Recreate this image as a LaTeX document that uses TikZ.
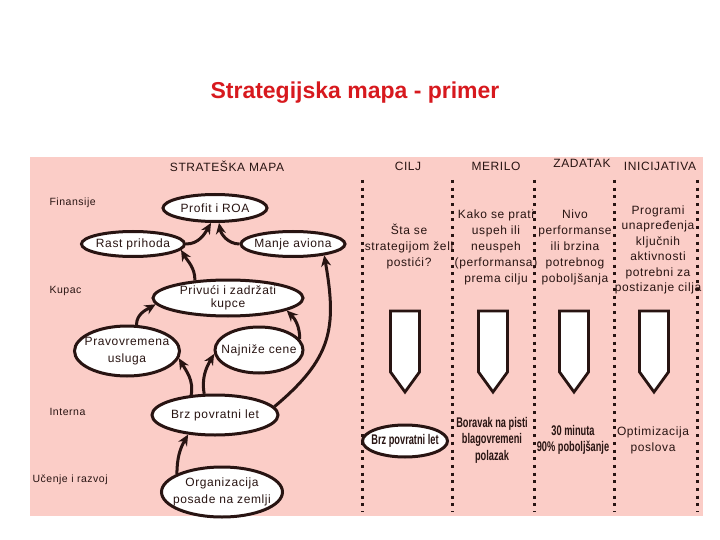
\documentclass[tikz,border=0pt]{standalone}
\usepackage{fontspec}
\setmainfont{Liberation Sans}[LetterSpace=5]
\newfontfamily\titlefont{Liberation Sans}
\newfontfamily\narrowfont[FakeStretch=0.66]{Liberation Sans}
\usetikzlibrary{shapes.geometric,arrows.meta,positioning}
\definecolor{mappink}{RGB}{251,205,199}
\definecolor{inkdark}{RGB}{40,20,18}
\definecolor{titlered}{RGB}{215,25,30}

\begin{document}
\begin{tikzpicture}[x=1pt,y=-1pt,
  oval/.style={draw=inkdark, fill=white, ellipse, line width=3pt, inner xsep=-8pt, inner ysep=-2pt, align=center, text=inkdark, font=\fontsize{12}{17}\selectfont},
  conn/.style={draw=inkdark, line width=3pt, -{Stealth[length=11pt,width=10pt]}},
  guide/.style={draw=inkdark, line width=3pt, dash pattern=on 3pt off 4.7pt},
  arrowbox/.style={draw=inkdark, fill=white, line width=2.8pt, line join=miter},
  head/.style={text=inkdark, font=\fontsize{12}{15}\selectfont},
  rowlbl/.style={text=inkdark, anchor=west, font=\fontsize{10.5}{13}\selectfont},
  coltxt/.style={text=inkdark, align=center, font=\fontsize{12}{16}\selectfont},
  goaltxt/.style={text=inkdark, align=center, font=\narrowfont\bfseries\fontsize{14}{16.5}\selectfont},
]
\useasboundingbox (0,0) rectangle (720,540);
\fill[mappink] (30,157) rectangle (703,516);

\node[text=titlered, font=\titlefont\bfseries\fontsize{23}{27}\selectfont] (title) at (355,93) {Strategijska mapa - primer};

\node[head] (hmapa) at (227,166) {STRATEŠKA MAPA};
\node[head] (hcilj) at (408,166) {CILJ};
\node[head] (hmerilo) at (496,166) {MERILO};
\node[head] (hzadatak) at (582,163) {ZADATAK};
\node[head] (hinic) at (660,166) {INICIJATIVA};

\node[rowlbl] (finansije) at (46,203) {Finansije};
\node[rowlbl] (kupac) at (46,291) {Kupac};
\node[rowlbl] (interna) at (46,412) {Interna};
\node[rowlbl] (ucenje) at (29,480) {Učenje i razvoj};

\foreach \x in {362,452,534,614,697}
  \draw[guide] (\x,180) -- (\x,512);

\node[oval, minimum width=104pt, minimum height=27pt] (profit) at (215,208) {Profit i ROA};
\node[oval, minimum width=103pt, minimum height=25pt] (rast) at (133,244) {Rast prihoda};
\node[oval, minimum width=104pt, minimum height=25pt] (manje) at (293,244) {Manje aviona};
\node[oval, minimum width=150pt, minimum height=36pt, font=\fontsize{12}{13.5}\selectfont] (privuci) at (228,298) {Privući i zadržati\\kupce};
\node[oval, minimum width=105pt, minimum height=50pt] (prav) at (127,351) {Pravovremena\\usluga};
\node[oval, minimum width=88pt, minimum height=46pt] (najnize) at (259,350) {Najniže cene};
\node[oval, minimum width=126pt, minimum height=40pt] (brz) at (215,415) {Brz povratni let};
\node[oval, minimum width=121pt, minimum height=50pt] (org) at (222,492) {Organizacija\\posade na zemlji};

\draw[conn] (rast.east) to[out=0,in=240] (profit.-105);
\draw[conn] (manje.west) to[out=180,in=-80] (profit.-75);
\draw[conn] (privuci.152) to[out=90,in=-60] (rast.-7);
\draw[conn] (prav.70) to[out=90,in=210] (privuci.185);
\draw[conn] (najnize.15) to[out=90,in=-45] (privuci.-12);
\draw[conn] (brz.140) to[out=80,in=-60] (prav.-8);
\draw[conn] (brz.117) to[out=100,in=240] (najnize.185);
\draw[conn] (brz.8) to[out=40,in=-80,looseness=1.2] (manje.-20);
\draw[conn] (org.158) to[out=90,in=240] (brz.-144);

\node[coltxt] (cilj) at (409,247) {Šta se\\strategijom želi\\postići?};
\node[coltxt] (merilo) at (496,247) {Kako se prati\\uspeh ili\\neuspeh\\(performansa)\\prema cilju};
\node[coltxt] (zadatak) at (575,247) {Nivo\\performanse\\ili brzina\\potrebnog\\poboljšanja};
\node[coltxt, font=\fontsize{12}{15.5}\selectfont] (inicijativa) at (658,250) {Programi\\unapređenja\\ključnih\\aktivnosti\\potrebni za\\postizanje cilja};

\foreach \x in {405,493,574,654}
  \draw[arrowbox] ({\x-14.5},311) -- ({\x+14.5},311) -- ({\x+14.5},372) -- (\x,392) -- ({\x-14.5},372) -- cycle;

\node[oval, minimum width=85pt, minimum height=32pt, font=\narrowfont\bfseries\fontsize{14}{16}\selectfont] (brzcilj) at (405,441) {Brz povratni let};
\node[goaltxt] (boravak) at (492,440) {Boravak na pisti\\blagovremeni\\polazak};
\node[goaltxt] (minuta) at (573,440) {30 minuta\\90\% poboljšanje};
\node[coltxt] (optim) at (653,440) {Optimizacija\\poslova};
\end{tikzpicture}
\end{document}
